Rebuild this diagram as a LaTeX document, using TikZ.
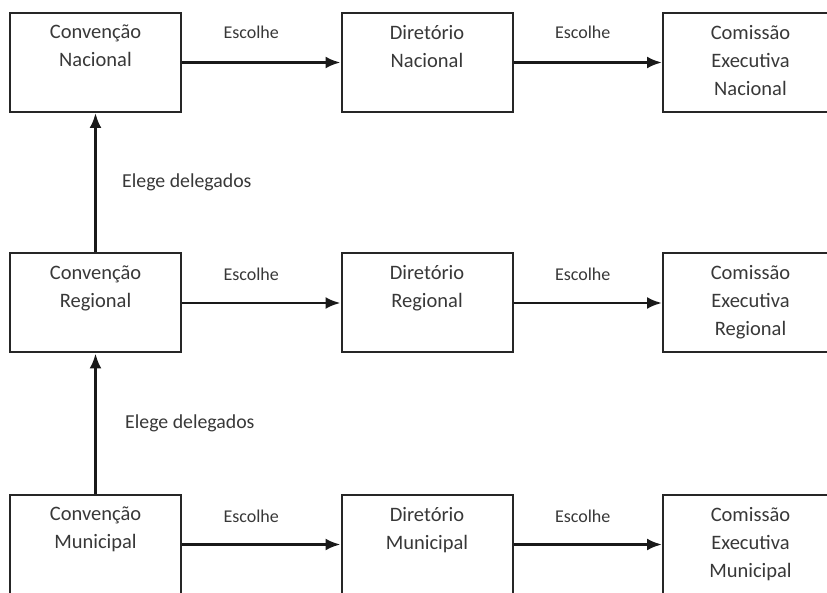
\documentclass[tikz,border=0pt]{standalone}
\usepackage{fontspec}
\setmainfont{Carlito}
\usetikzlibrary{arrows.meta}

\begin{document}
\begin{tikzpicture}[x=1pt,y=-1pt,
	caixa/.style={draw=black!85, line width=2pt, minimum width=171pt, minimum height=99pt, inner sep=0pt},
	texto/.style={anchor=north, align=center, text=black!78, font=\fontsize{20.5}{28}\selectfont, inner sep=0pt, yshift=-13pt},
	seta/.style={draw=black!90, line width=2.8pt, -{Latex[length=15pt,width=12pt]}},
	rotulo/.style={text=black!78, font=\fontsize{18}{20}\selectfont}]
	
	\useasboundingbox (0,0) rectangle (827,593);
	\clip (0,0) rectangle (827,593);
	
	% Nacional
	\node[caixa] (cn) at (95.5,62.5) {};
	\node[texto] (cnt) at (cn.north) {Convenção\\Nacional};
	\node[caixa] (dn) at (427,62.5) {};
	\node[texto] (dnt) at (dn.north) {Diretório\\Nacional};
	\node[caixa, minimum width=175pt] (en) at (750.5,62.5) {};
	\node[texto] (ent) at (en.north) {Comissão\\Executiva\\Nacional};
	
	% Regional
	\node[caixa] (cr) at (95.5,303) {};
	\node[texto] (crt) at (cr.north) {Convenção\\Regional};
	\node[caixa] (dr) at (427,303) {};
	\node[texto] (drt) at (dr.north) {Diretório\\Regional};
	\node[caixa, minimum width=175pt] (er) at (750.5,303) {};
	\node[texto] (ert) at (er.north) {Comissão\\Executiva\\Regional};
	
	% Municipal
	\node[caixa] (cm) at (95.5,544.5) {};
	\node[texto] (cmt) at (cm.north) {Convenção\\Municipal};
	\node[caixa] (dm) at (427,544.5) {};
	\node[texto] (dmt) at (dm.north) {Diretório\\Municipal};
	\node[caixa, minimum width=175pt] (em) at (750.5,544.5) {};
	\node[texto] (emt) at (em.north) {Comissão\\Executiva\\Municipal};
	
	% Escolhe
	\draw[seta] (cn) -- (dn) node[rotulo, midway, xshift=-10pt, yshift=30pt] (l1) {Escolhe};
	\draw[seta] (dn) -- (en) node[rotulo, midway, xshift=-5pt, yshift=30pt] (l2) {Escolhe};
	\draw[seta] (cr) -- (dr) node[rotulo, midway, xshift=-10pt, yshift=29pt] (l3) {Escolhe};
	\draw[seta] (dr) -- (er) node[rotulo, midway, xshift=-5pt, yshift=29pt] (l4) {Escolhe};
	\draw[seta] (cm) -- (dm) node[rotulo, midway, xshift=-10pt, yshift=28pt] (l5) {Escolhe};
	\draw[seta] (dm) -- (em) node[rotulo, midway, xshift=-5pt, yshift=28pt] (l6) {Escolhe};
	
	% Elege delegados
	\draw[seta] (cr) -- (cn) node[rotulo, midway, right=22pt, font=\fontsize{19.8}{22}\selectfont] (d1) {Elege delegados};
	\draw[seta] (cm) -- (cr) node[rotulo, midway, right=25pt, font=\fontsize{19.8}{22}\selectfont] (d2) {Elege delegados};
	
\end{tikzpicture}
\end{document}
